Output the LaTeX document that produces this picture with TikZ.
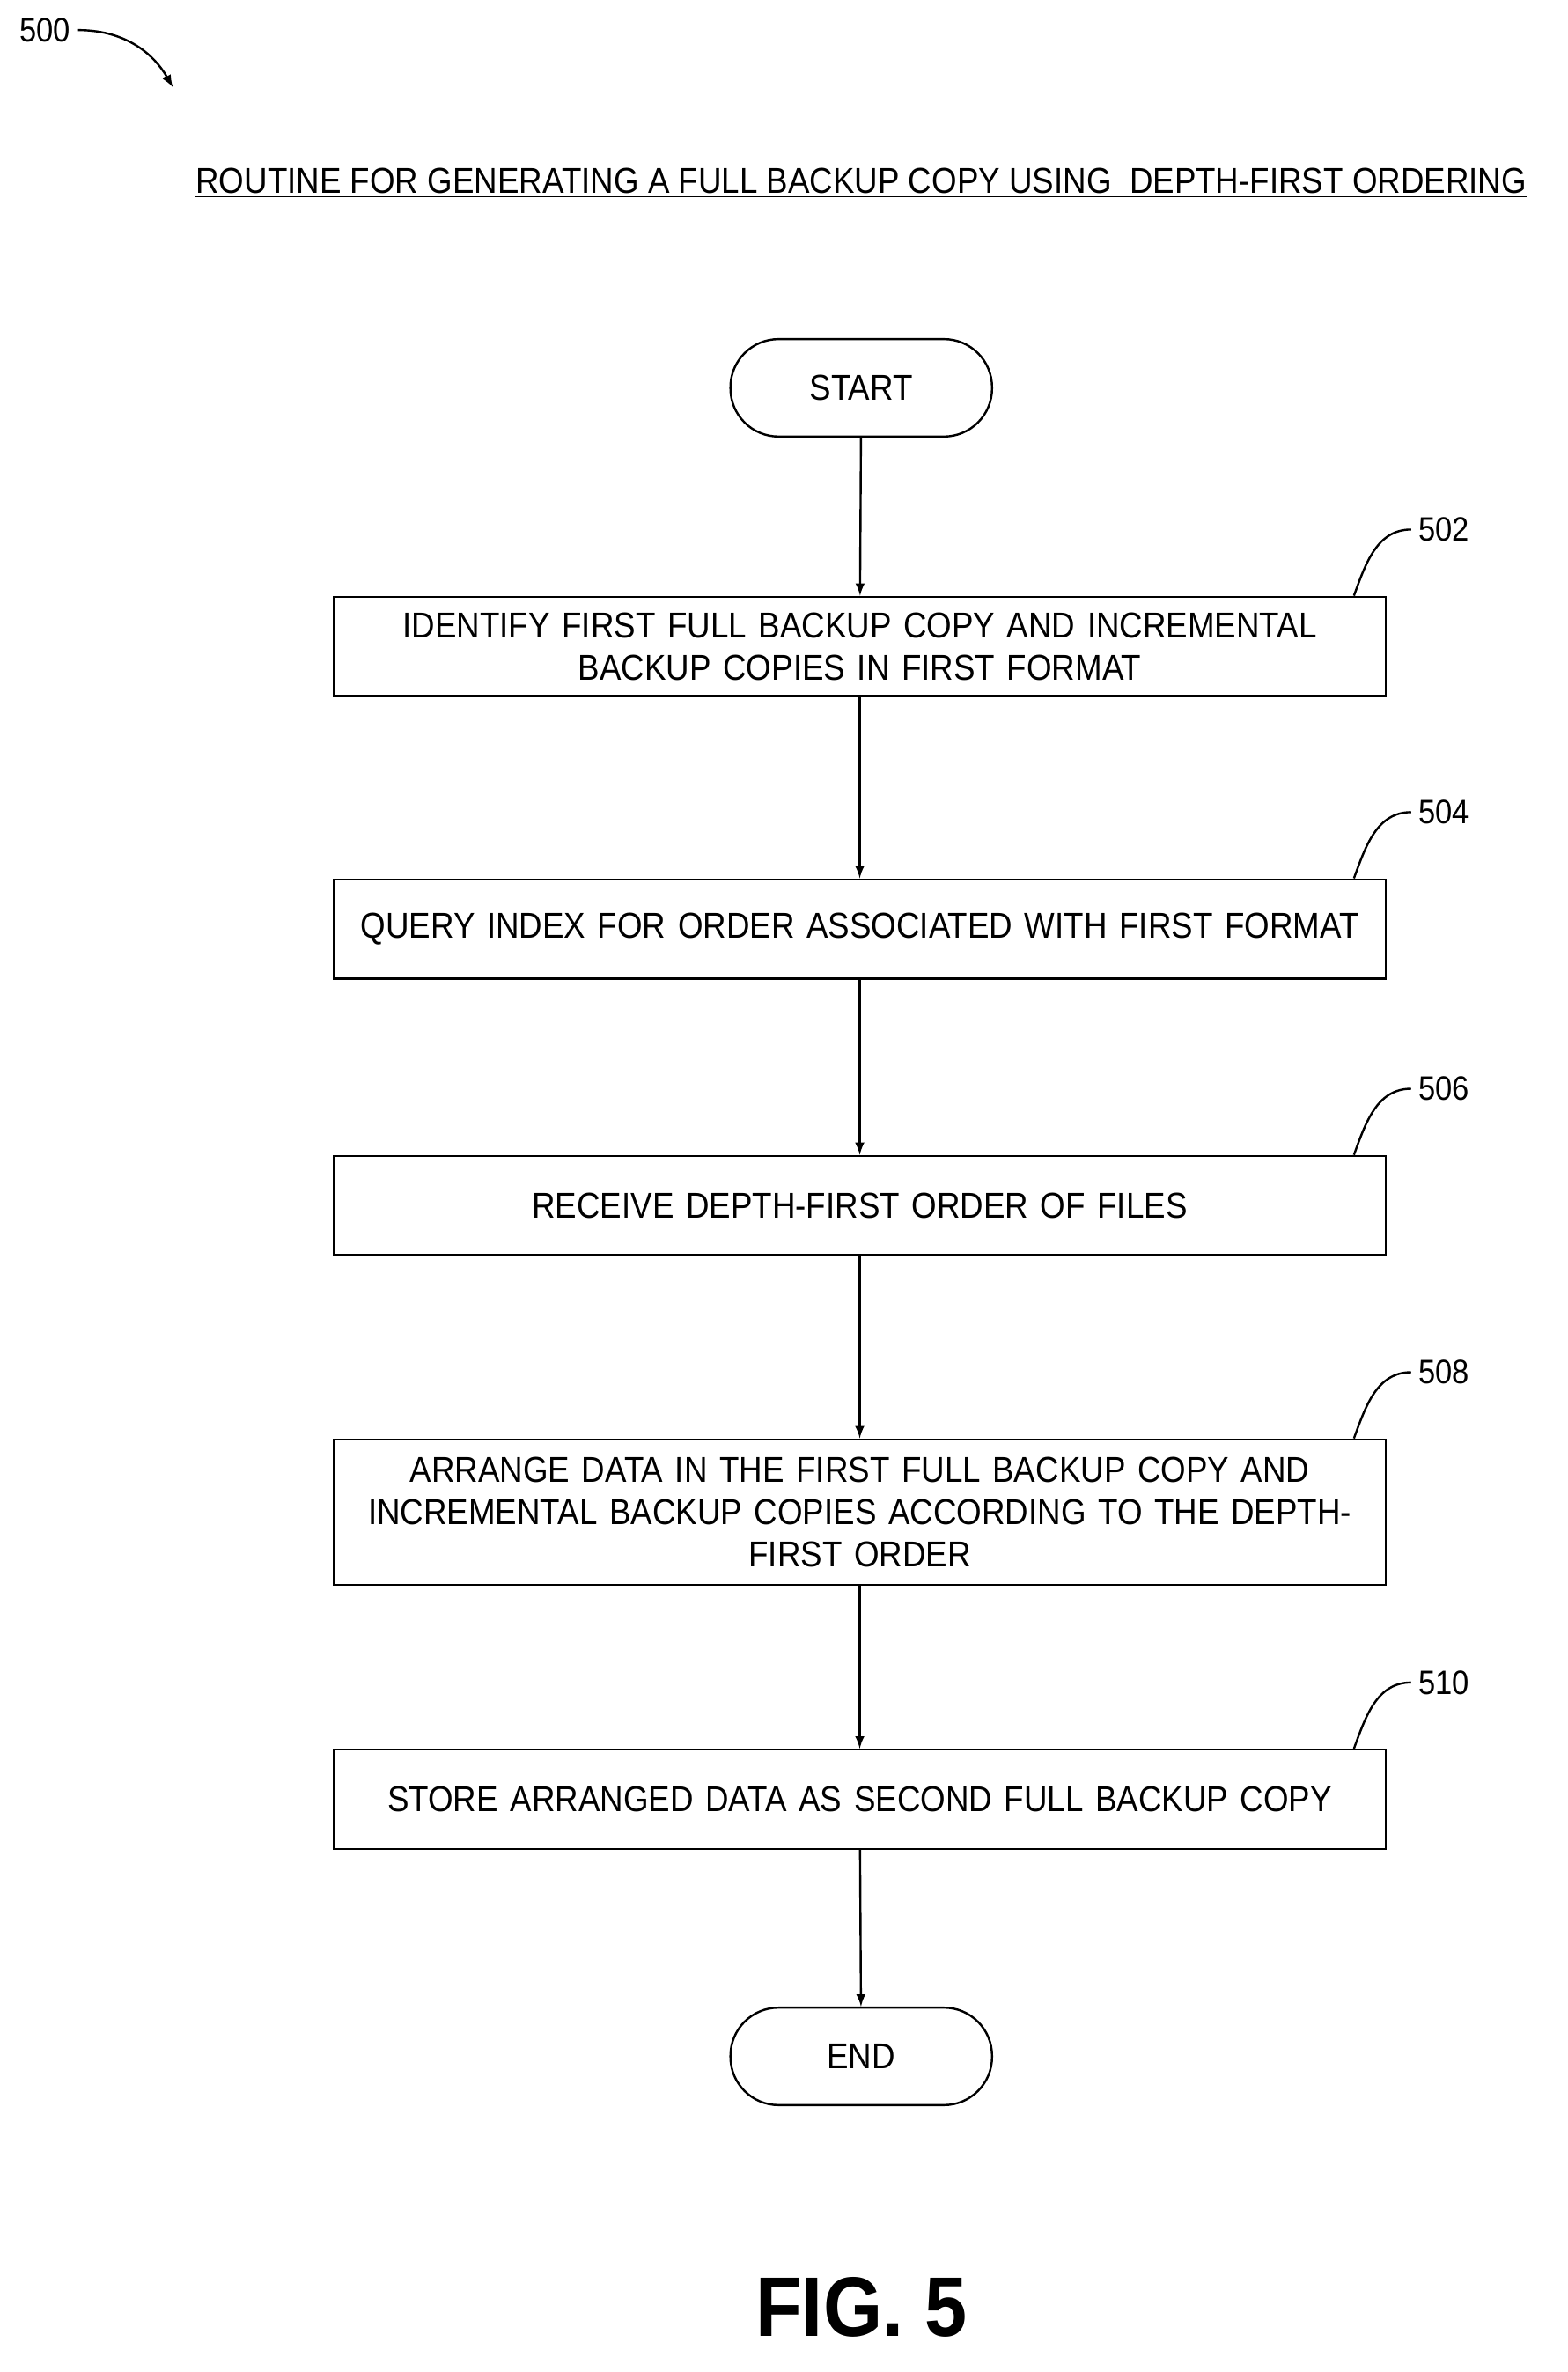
\documentclass[tikz,border=0pt]{standalone}
\usepackage{fontspec}
\setmainfont{Liberation Sans}[FakeStretch=0.9]
\usetikzlibrary{positioning}
\tikzset{
  box/.style={draw, line width=1pt, text width=17cm, minimum width=17.5cm, minimum height=1.65cm, align=center, font=\fontsize{17}{20}\selectfont},
  term/.style={draw, line width=1pt, rounded corners=0.8cm, minimum width=4.35cm, minimum height=1.62cm, font=\fontsize{17}{20}\selectfont},
  flow/.style={-latex, line width=1pt},
  tag/.style={font=\fontsize{16}{18}\selectfont}
}
\begin{document}
\begin{tikzpicture}[x=0.025cm, y=-0.025cm]
\useasboundingbox (0,0) rectangle (1043,1578);
\node (n500) at (30,20) {\fontsize{16}{18}\selectfont 500};
\coordinate (a500) at (115,58);
\draw[-latex, line width=1pt] (n500.east) to[out=0, in=120] (a500);
\node (title) at (573,122) {\fontsize{17}{20}\selectfont \underline{ROUTINE FOR GENERATING A FULL BACKUP COPY USING\ \ DEPTH-FIRST ORDERING}};
\node[term] (start) at (573,258) {START};
\node[box] (s502) at (572,430) {IDENTIFY FIRST FULL BACKUP COPY AND INCREMENTAL\\BACKUP COPIES IN FIRST FORMAT};
\node[box] (s504) at (572,618) {QUERY INDEX FOR ORDER ASSOCIATED WITH FIRST FORMAT};
\node[box] (s506) at (572,802) {RECEIVE DEPTH-FIRST ORDER OF FILES};
\node[box, minimum height=2.42cm] (s508) at (572,1006) {ARRANGE DATA IN THE FIRST FULL BACKUP COPY AND\\INCREMENTAL BACKUP COPIES ACCORDING TO THE DEPTH-\\FIRST ORDER};
\node[box] (s510) at (572,1197) {STORE ARRANGED DATA AS SECOND FULL BACKUP COPY};
\node[term] (end) at (573,1368) {END};
\draw[flow] (start) -- (s502);
\draw[flow] (s502) -- (s504);
\draw[flow] (s504) -- (s506);
\draw[flow] (s506) -- (s508);
\draw[flow] (s508) -- (s510);
\draw[flow] (s510) -- (end);
\foreach \s/\t in {s502/502, s504/504, s506/506, s508/508, s510/510} {
  \node[tag, anchor=west] (l\t) at ([xshift=0.4cm, yshift=1.1cm]\s.north east) {\t};
  \draw[line width=1pt] ([xshift=-0.55cm]\s.north east) to[out=70, in=180] (l\t.west);
}
\node (fig) at (573,1535) {\fontsize{40}{44}\selectfont\bfseries FIG. 5};
\end{tikzpicture}
\end{document}
